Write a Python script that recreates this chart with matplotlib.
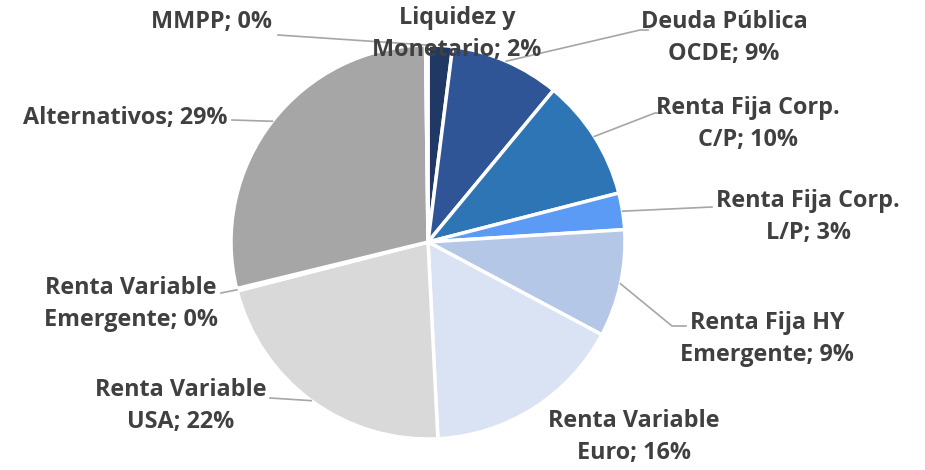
import numpy as np
import matplotlib.pyplot as plt

# Distribución de la cartera (%)
categorias = ["Liquidez y\nMonetario", "Deuda Pública\nOCDE", "Renta Fija Corp.\nC/P",
              "Renta Fija Corp.\nL/P", "Renta Fija HY\nEmergente", "Renta Variable\nEuro",
              "Renta Variable\nUSA", "Renta Variable\nEmergente", "Alternativos", "MMPP"]
valores = [2.0, 9.0, 10.0, 3.0, 8.8, 16.4, 21.8, 0.2, 28.6, 0.2]
colores = ["#203864", "#2F5597", "#2E75B6", "#5B9BF5", "#B4C7E7",
           "#DAE3F3", "#D9D9D9", "#BFBFBF", "#A6A6A6", "#7F7F7F"]

# posición de cada etiqueta en píxeles (x, y, alineación) y codo de la línea guía
W, H, CX, CY, R = 925, 470, 428, 242, 197
pos_etiquetas = [(457, 34, "center"), (724, 38, "center"), (748, 124, "center"),
                 (808, 217, "center"), (767, 339, "center"), (634, 437, "center"),
                 (181, 406, "center"), (131, 304, "center"), (228, 118, "right"),
                 (272, 22, "right")]
guias = [None, [(648, 30), (640, 30)], [(662, 113), (655, 113)], [(712, 207)],
         [(686, 326), (672, 326)], None, [(270, 398)], [(221, 293)], [(232, 120)],
         [(278, 35)]]


def px(x, y):
    return (x - CX) / R, (CY - y) / R


fig = plt.figure(figsize=(W / 100, H / 100), dpi=100)
ax = fig.add_axes([0, 0, 1, 1])
wedges, _ = ax.pie(valores, colors=colores, startangle=90, counterclock=False,
                   radius=1, wedgeprops=dict(edgecolor="white", linewidth=2.5))
ax.set_xlim(px(0, 0)[0], px(W, 0)[0])
ax.set_ylim(px(0, H)[1], px(0, 0)[1])
ax.set_aspect("equal")
ax.axis("off")

for w, cat, val, (lx, ly, ha), guia in zip(wedges, categorias, valores, pos_etiquetas, guias):
    if guia:
        ang = np.deg2rad((w.theta1 + w.theta2) / 2)
        pts = [px(*p) for p in guia] + [(np.cos(ang), np.sin(ang))]
        xs, ys = zip(*pts)
        ax.plot(xs, ys, color="#A6A6A6", lw=1.2, zorder=1)
    tx, ty = px(lx, ly)
    ax.text(tx, ty, f"{cat}; {round(val)}%", ha=ha, va="center", multialignment="center",
            fontsize=16.8, fontweight="bold", color="#404040", family="Open Sans",
            linespacing=1.45, zorder=5)

fig.savefig("out.png", dpi=100)
